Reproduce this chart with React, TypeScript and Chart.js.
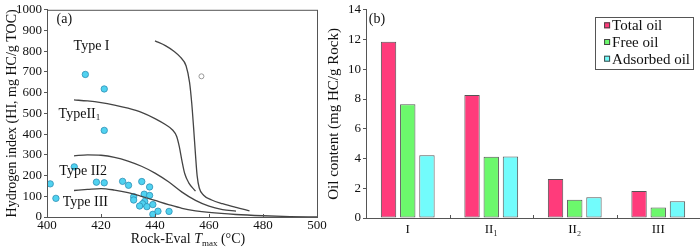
import React, { useEffect, useRef } from "react";
import { Chart, registerables } from "chart.js";
Chart.register(...registerables);

const FONT = "'Liberation Serif', 'Times New Roman', serif";
const INK = "#111";
const AXIS = "#555";

// ---------- Panel (a) data ----------
const typeI_x = [440, 444, 447, 449.5, 451.5, 452.8, 453.6, 454.3, 455, 455.6, 456.4, 458, 461, 465, 470, 475];
const typeI_y = [850, 826, 800, 770, 730, 650, 550, 430, 300, 200, 140, 105, 82, 64, 46, 30];
const typeII1_x = [410, 415, 420, 425, 430, 435, 440, 444, 446.5, 448, 449, 450, 451, 452.5, 455];
const typeII1_y = [565, 560, 552, 540, 525, 505, 475, 445, 420, 390, 340, 270, 210, 165, 125];
const typeII2_x = [410, 415, 420, 425, 430, 435, 440, 445, 450, 455, 460, 465, 470];
const typeII2_y = [295, 300, 298, 288, 270, 245, 212, 170, 120, 80, 52, 36, 28];
const typeIII_x = [410, 415, 420, 425, 430, 435, 440, 445, 450, 455, 460, 470, 480, 490, 500];
const typeIII_y = [128, 133, 137, 130, 118, 100, 80, 60, 42, 30, 22, 12, 6, 2, 0];

const sampleTmax = [401.2, 403.3, 410.1, 414.2, 421.2, 421.2, 418.3, 421.2, 428, 430.2, 435.1, 438, 432.1, 432.1, 436, 438, 436.2, 435.4, 434.3, 437, 439.2, 439.2, 441.1, 445.2];
const sampleHI = [160, 90, 242, 688, 618, 418, 168, 165, 172, 153, 171, 145, 98, 82, 110, 104, 75, 64, 53, 50, 60, 13, 28, 27];
const hollowTmax = [457.2];
const hollowHI = [679];

const xTicksA = { min: 400, max: 500, step: 20 };
const yTicksA = { min: 0, max: 1000, step: 100 };

// annotation labels (text, Tmax, HI)
const annoText = ["(a)", "Type I", "TypeII", "Type II2", "Type III"];
const annoX = [406.4, 416.5, 412.0, 413.4, 414.2];
const annoY = [953, 824, 497, 222, 72];
const annoSub = ["", "", "1", "", ""];

// ---------- Panel (b) data ----------
const categories = ["I", "II\u2081", "II\u2082", "III"];
const seriesNames = ["Total oil", "Free oil", "Adsorbed oil"];
const totalOil = [11.85, 8.27, 2.62, 1.82];
const freeOil = [7.65, 4.12, 1.23, 0.7];
const adsorbedOil = [4.22, 4.14, 1.4, 1.13];
const seriesColors = ["#FF3B7B", "#6CF86C", "#72FCFC"];
const yTicksB = { min: 0, max: 14, step: 2 };

const toPts = (xs: number[], ys: number[]) => xs.map((x, i) => ({ x, y: ys[i] }));
const plain = (v: any) => String(v);

const leftPlugin = {
  id: "leftDecor",
  afterDraw(chart: any) {
    const { ctx, chartArea: a, scales } = chart;
    const xs = scales.x, ys = scales.y;
    ctx.save();
    // frame box
    ctx.strokeStyle = AXIS;
    ctx.lineWidth = 1;
    ctx.strokeRect(a.left + 0.5, a.top + 0.5, a.right - a.left, a.bottom - a.top);
    // inward x ticks
    ctx.beginPath();
    for (let v = xTicksA.min; v <= xTicksA.max; v += xTicksA.step) {
      const px = Math.round(xs.getPixelForValue(v)) + 0.5;
      ctx.moveTo(px, a.bottom);
      ctx.lineTo(px, a.bottom - 3);
    }
    ctx.stroke();
    // annotations
    ctx.fillStyle = INK;
    ctx.textBaseline = "middle";
    for (let i = 0; i < annoText.length; i++) {
      const px = xs.getPixelForValue(annoX[i]);
      const py = ys.getPixelForValue(annoY[i]);
      ctx.font = `14px ${FONT}`;
      const w1 = ctx.measureText(annoText[i]).width;
      ctx.font = `9px ${FONT}`;
      const w2 = annoSub[i] ? ctx.measureText(annoSub[i]).width : 0;
      const x0 = px - (w1 + w2) / 2;
      ctx.font = `14px ${FONT}`;
      ctx.textAlign = "left";
      ctx.fillText(annoText[i], x0, py);
      if (annoSub[i]) {
        ctx.font = `9px ${FONT}`;
        ctx.fillText(annoSub[i], x0 + w1, py + 4);
      }
    }
    // x title: Rock-Eval T_max (°C)
    const parts = [
      { t: "Rock-Eval ", f: `14px ${FONT}`, dy: 0 },
      { t: "T", f: `italic 14px ${FONT}`, dy: 0 },
      { t: "max", f: `9px ${FONT}`, dy: 3 },
      { t: " (\u00B0C)", f: `14px ${FONT}`, dy: 0 },
    ];
    let total = 0;
    const widths = parts.map((p) => {
      ctx.font = p.f;
      const w = ctx.measureText(p.t).width;
      total += w;
      return w;
    });
    let x = (a.left + a.right) / 2 + 6 - total / 2;
    const base = 243;
    ctx.textBaseline = "alphabetic";
    parts.forEach((p, i) => {
      ctx.font = p.f;
      ctx.fillText(p.t, x, base + p.dy);
      x += widths[i];
    });
    ctx.restore();
  },
};

const rightPlugin = {
  id: "rightDecor",
  afterDraw(chart: any) {
    const { ctx, chartArea: a, scales } = chart;
    const xs = scales.x;
    ctx.save();
    // inward ticks at category boundaries
    ctx.strokeStyle = AXIS;
    ctx.lineWidth = 1;
    ctx.beginPath();
    for (let i = 1; i < categories.length; i++) {
      const px = Math.round((xs.getPixelForValue(i - 1) + xs.getPixelForValue(i)) / 2) + 0.5;
      ctx.moveTo(px, a.bottom);
      ctx.lineTo(px, a.bottom - 3);
    }
    ctx.stroke();
    // panel label
    ctx.fillStyle = INK;
    ctx.font = `14px ${FONT}`;
    ctx.textAlign = "center";
    ctx.textBaseline = "middle";
    ctx.fillText("(b)", a.left + 11, a.top + 10);
    // legend box
    ctx.font = `15px ${FONT}`;
    let maxW = 0;
    seriesNames.forEach((n) => (maxW = Math.max(maxW, ctx.measureText(n).width)));
    const boxW = maxW + 20;
    const boxR = a.right - 7;
    const boxL = boxR - boxW;
    const boxT = a.top + 7;
    const rowH = 16.7;
    const boxH = rowH * seriesNames.length + 2;
    ctx.strokeStyle = AXIS;
    ctx.strokeRect(Math.round(boxL) + 0.5, Math.round(boxT) + 0.5, Math.round(boxW), Math.round(boxH));
    ctx.textAlign = "left";
    seriesNames.forEach((n, i) => {
      const cy = boxT + 8.5 + i * rowH;
      ctx.fillStyle = seriesColors[i];
      ctx.fillRect(boxL + 9, cy - 3, 6, 6);
      ctx.strokeStyle = "#444";
      ctx.strokeRect(boxL + 9.5, cy - 2.5, 5, 5);
      ctx.fillStyle = INK;
      ctx.fillText(n, boxL + 17, cy + 1);
    });
    ctx.restore();
  },
};

export default function App() {
  const leftRef = useRef<HTMLCanvasElement>(null);
  const rightRef = useRef<HTMLCanvasElement>(null);

  useEffect(() => {
    const curveStyle = {
      showLine: true,
      borderColor: "#444",
      borderWidth: 1.3,
      pointRadius: 0,
      cubicInterpolationMode: "monotone" as const,
      fill: false,
    };
    const c1 = new Chart(leftRef.current!, {
      type: "scatter",
      data: {
        datasets: [
          { ...curveStyle, data: toPts(typeI_x, typeI_y) },
          { ...curveStyle, data: toPts(typeII1_x, typeII1_y) },
          { ...curveStyle, data: toPts(typeII2_x, typeII2_y) },
          { ...curveStyle, data: toPts(typeIII_x, typeIII_y) },
          {
            data: toPts(sampleTmax, sampleHI),
            pointRadius: 3.2,
            backgroundColor: "#50D2F0",
            borderColor: "#2E8FB5",
            borderWidth: 0.8,
            showLine: false,
          },
          {
            data: toPts(hollowTmax, hollowHI),
            pointRadius: 2.5,
            backgroundColor: "#fff",
            borderColor: "#999",
            borderWidth: 1,
            showLine: false,
          },
        ] as any,
      },
      options: {
        responsive: false,
        animation: false,
        layout: { padding: { top: 5, right: 23, left: 0, bottom: 0 } },
        plugins: { legend: { display: false }, tooltip: { enabled: false } },
        scales: {
          x: {
            type: "linear",
            min: xTicksA.min,
            max: xTicksA.max,
            ticks: { stepSize: xTicksA.step, font: { family: FONT, size: 13 }, color: INK, padding: 1, callback: plain },
            grid: { drawOnChartArea: false, drawTicks: false },
            border: { color: AXIS },
            afterFit: (s: any) => { s.height = 31; },
          },
          y: {
            min: yTicksA.min,
            max: yTicksA.max,
            ticks: { stepSize: yTicksA.step, font: { family: FONT, size: 13 }, color: INK, padding: 2, callback: plain },
            grid: { drawOnChartArea: false, tickLength: 3, color: AXIS },
            border: { color: AXIS },
            title: {
              display: true,
              text: "Hydrogen index (HI, mg HC/g TOC)",
              font: { family: FONT, size: 14 },
              color: INK,
              padding: { top: 4, bottom: 0 },
            },
            afterFit: (s: any) => { s.width = 47; },
          },
        },
      } as any,
      plugins: [leftPlugin],
    });

    const barStyle = { borderColor: "#555", borderWidth: 1, borderSkipped: false };
    const c2 = new Chart(rightRef.current!, {
      type: "bar",
      data: {
        labels: categories,
        datasets: [
          { ...barStyle, label: seriesNames[0], data: totalOil, backgroundColor: seriesColors[0] },
          { ...barStyle, label: seriesNames[1], data: freeOil, backgroundColor: seriesColors[1] },
          { ...barStyle, label: seriesNames[2], data: adsorbedOil, backgroundColor: seriesColors[2] },
        ] as any,
      },
      options: {
        responsive: false,
        animation: false,
        layout: { padding: { top: 6, right: 0, left: 0, bottom: 0 } },
        datasets: { bar: { categoryPercentage: 0.69, barPercentage: 0.8 } },
        plugins: { legend: { display: false }, tooltip: { enabled: false } },
        scales: {
          x: {
            ticks: { font: { family: FONT, size: 13 }, color: INK, padding: 4 },
            grid: { drawOnChartArea: false, drawTicks: false },
            border: { color: AXIS },
            afterFit: (s: any) => { s.height = 30; },
          },
          y: {
            min: yTicksB.min,
            max: yTicksB.max,
            ticks: { stepSize: yTicksB.step, font: { family: FONT, size: 13 }, color: INK, padding: 2, callback: plain },
            grid: { drawOnChartArea: false, tickLength: 3, color: AXIS },
            border: { color: AXIS },
            title: {
              display: true,
              text: "Oil content (mg HC/g Rock)",
              font: { family: FONT, size: 15 },
              color: INK,
              padding: { top: 3, bottom: 0 },
            },
            afterFit: (s: any) => { s.width = 44; },
          },
        },
      } as any,
      plugins: [rightPlugin],
    });

    return () => {
      c1.destroy();
      c2.destroy();
    };
  }, []);

  return (
    <div style={{ position: "fixed", left: 0, top: 0, width: 700, height: 248, background: "#fff" }}>
      <div style={{ position: "absolute", left: 0, top: 0, width: 340, height: 248 }}>
        <canvas ref={leftRef} width={340} height={248} style={{ width: 340, height: 248, display: "block" }} />
      </div>
      <div style={{ position: "absolute", left: 322, top: 0, width: 378, height: 248 }}>
        <canvas ref={rightRef} width={378} height={248} style={{ width: 378, height: 248, display: "block" }} />
      </div>
    </div>
  );
}
